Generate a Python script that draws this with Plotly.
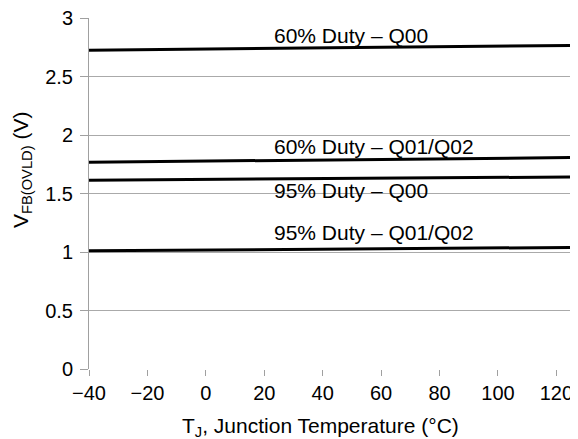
import plotly.graph_objects as go

temps = [-40, 125]
duty60_q00 = [2.727, 2.768]
duty60_q0102 = [1.769, 1.809]
duty95_q00 = [1.615, 1.643]
duty95_q0102 = [1.011, 1.040]

series = [
    ("60% Duty \u2013 Q00", duty60_q00),
    ("60% Duty \u2013 Q01/Q02", duty60_q0102),
    ("95% Duty \u2013 Q00", duty95_q00),
    ("95% Duty \u2013 Q01/Q02", duty95_q0102),
]
label_x = [22.5, 22.5, 22.5, 22.5]
label_y = [2.857, 1.903, 1.524, 1.171]

x_ticks = [-40, -20, 0, 20, 40, 60, 80, 100, 120]
x_tick_text = ["\u221240", "\u221220", "0", "20", "40", "60", "80", "100", "120"]
y_ticks = [0, 0.5, 1, 1.5, 2, 2.5, 3]
y_tick_text = ["0", "0.5", "1", "1.5", "2", "2.5", "3"]

x_title = "T<sub>J</sub>, Junction Temperature (\u00b0C)"
y_title = "V<sub>FB(OVLD)</sub> (V)"

FONT = "Liberation Sans, Arial, Helvetica, sans-serif"

fig = go.Figure()
for name, vals in series:
    fig.add_trace(go.Scatter(x=temps, y=vals, mode="lines", name=name,
                             line=dict(color="black", width=3), showlegend=False))

for (name, _), lx, ly in zip(series, label_x, label_y):
    fig.add_annotation(x=lx, y=ly, text=name, showarrow=False, xanchor="left",
                       yanchor="middle", font=dict(size=21, color="black", family=FONT))

# axis titles as annotations for exact placement
fig.add_annotation(xref="paper", yref="paper", x=0.481, y=-0.168, text=x_title,
                   showarrow=False, xanchor="center", yanchor="middle", yshift=1,
                   font=dict(size=21, color="black", family=FONT))
fig.add_annotation(xref="paper", yref="paper", x=-0.139, y=0.567, text=y_title,
                   showarrow=False, xanchor="center", yanchor="middle", textangle=-90,
                   font=dict(size=21, color="black", family=FONT))

fig.update_layout(
    width=570, height=431,
    margin=dict(l=81, r=7, t=10, b=70, autoexpand=False),
    plot_bgcolor="white", paper_bgcolor="white",
    font=dict(family=FONT, size=20, color="black"),
)
fig.update_xaxes(range=[-40, 125], tickvals=x_ticks, ticktext=x_tick_text,
                 showgrid=False, zeroline=False, showline=False, automargin=False,
                 ticks="outside", ticklen=6, tickcolor="#a0a0a0", tickwidth=1,
                 tickfont=dict(size=20), ticklabeloverflow="allow")
fig.update_yaxes(range=[0, 3.003], tickvals=y_ticks, ticktext=y_tick_text,
                 showgrid=True, gridcolor="#aaaaaa", gridwidth=1, automargin=False,
                 zeroline=False, showline=True, linecolor="#a0a0a0", linewidth=1,
                 ticks="outside", ticklen=8, tickcolor="#a0a0a0", tickwidth=1,
                 ticklabelstandoff=3, tickfont=dict(size=20), ticklabeloverflow="allow")

fig.write_html("out.html")
